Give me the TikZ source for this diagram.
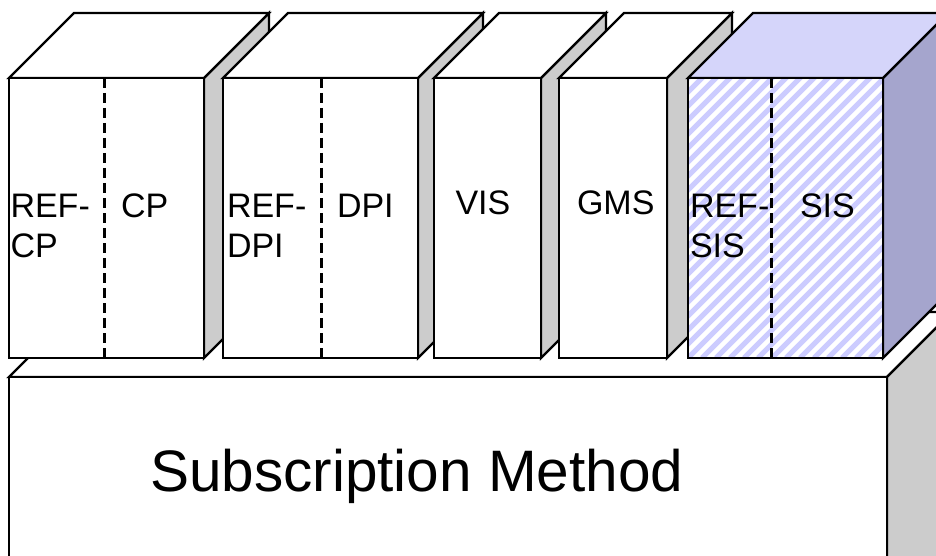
\documentclass[tikz,border=0pt]{standalone}
\usepackage{fontspec}
\setmainfont{Liberation Sans}
\usetikzlibrary{calc}
\definecolor{sidegray}{RGB}{204,204,204}
\definecolor{sistop}{RGB}{213,213,250}
\definecolor{sisside}{RGB}{165,165,205}
\definecolor{sisstripe}{RGB}{204,204,255}
\tikzset{
  edge/.style={draw=black, line width=2.4pt, line join=miter},
  divider/.style={draw=black, line width=3pt, dash pattern=on 10pt off 5pt},
  stripe/.style={draw=sisstripe, line width=5pt},
  lbl/.style={anchor=base west, inner sep=0pt, outer sep=0pt, align=left, font=\fontsize{34}{40}\selectfont},
  biglbl/.style={anchor=base west, inner sep=0pt, outer sep=0pt, font=\fontsize{58.5}{70}\selectfont}
}
\newcommand\mybrick[5]{% x1, x2, side colour, top colour, front colour
  \filldraw[edge, fill=#3] (#2,78) -- (#2+65,13) -- (#2+65,293) -- (#2,358) -- cycle;
  \filldraw[edge, fill=#4] (#1,78) -- (#1+65,13) -- (#2+65,13) -- (#2,78) -- cycle;
  \filldraw[edge, fill=#5] (#1,78) rectangle (#2,358);
}
\begin{document}
\begin{tikzpicture}[x=1pt, y=-1pt]
\useasboundingbox (0,0) rectangle (936,556);
\clip (0,0) rectangle (936,556);
% base block
\filldraw[edge, fill=white] (9,377) -- (74,312) -- (952,312) -- (887,377) -- cycle;
\filldraw[edge, fill=sidegray] (887,377) -- (952,312) -- (952,640) -- (887,705) -- cycle;
\filldraw[edge, fill=white] (9,377) rectangle (887,705);
\node[biglbl] (subm) at (150,491) {Subscription Method};
% brick 1: REF-CP / CP
\mybrick{9}{204}{sidegray}{white}{white}
\draw[divider] (104,78) -- (104,358);
\node[lbl] (refcp) at (10.5,257) {REF-\\CP};
\node[lbl] (cp) at (121,217) {CP};
% brick 2: REF-DPI / DPI
\mybrick{223}{418}{sidegray}{white}{white}
\draw[divider] (321,78) -- (321,358);
\node[lbl] (refdpi) at (227,257) {REF-\\DPI};
\node[lbl] (dpi) at (337,217) {DPI};
% brick 3: VIS
\mybrick{434}{541}{sidegray}{white}{white}
\node[lbl] (vis) at (455.5,214) {VIS};
% brick 4: GMS
\mybrick{559}{667}{sidegray}{white}{white}
\node[lbl] (gms) at (577,214) {GMS};
% brick 5: REF-SIS / SIS
\mybrick{688}{883}{sisside}{sistop}{white}
\begin{scope}
  \clip (688,78) rectangle (883,358);
  \foreach \k in {0,...,36} \draw[stripe] (408+14*\k,358) -- ++(300,-300);
\end{scope}
\draw[edge] (688,78) rectangle (883,358);
\draw[divider] (771,78) -- (771,358);
\node[lbl] (refsis) at (690,257) {REF-\\SIS};
\node[lbl] (sis) at (800,217) {SIS};
\end{tikzpicture}
\end{document}
